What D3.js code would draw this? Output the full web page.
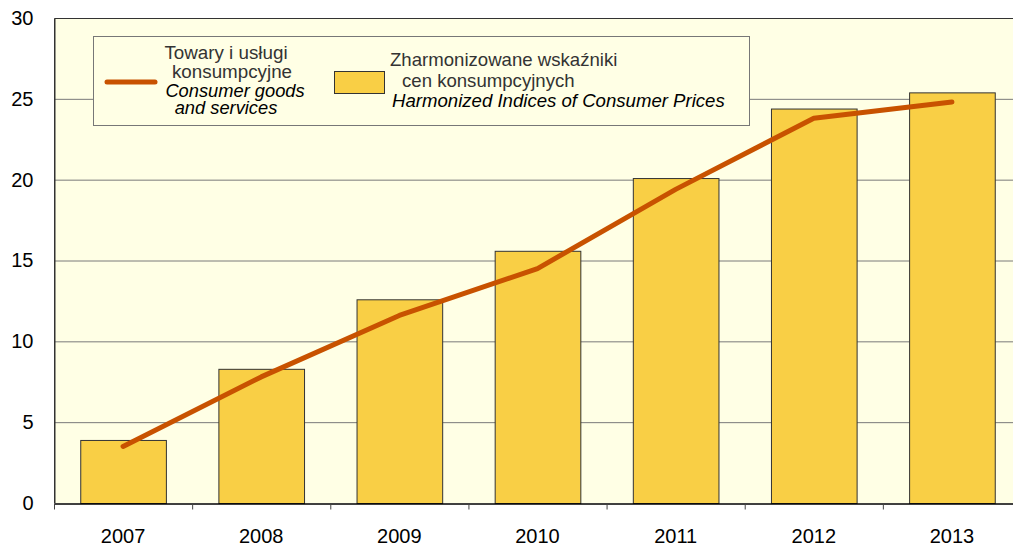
<!DOCTYPE html>
<html>
<head>
<meta charset="utf-8">
<script src="https://cdn.jsdelivr.net/npm/d3@7"></script>
<style>
  body { margin: 0; background: #fff; }
  svg { display: block; font-family: "Liberation Sans", Arial, sans-serif; }
</style>
</head>
<body>
<div id="chart"></div>
<script>
// Data
var years = ["2007", "2008", "2009", "2010", "2011", "2012", "2013"];
var hicpValues = [3.9, 8.3, 12.6, 15.6, 20.1, 24.4, 25.4];
var goodsValues = [3.5, 7.8, 11.6, 14.5, 19.4, 23.8, 24.8];
var yTicks = [0, 5, 10, 15, 20, 25, 30];

var svgWidth = 1013;
var svgHeight = 547;

var chartMargin = { top: 18, right: -8, bottom: 44, left: 54 };
var chartWidth = svgWidth - chartMargin.left - chartMargin.right;
var chartHeight = svgHeight - chartMargin.top - chartMargin.bottom;

var svg = d3.select("#chart")
  .append("svg")
  .attr("width", svgWidth)
  .attr("height", svgHeight);

var chartGroup = svg.append("g")
  .attr("transform", `translate(${chartMargin.left}, ${chartMargin.top})`);

var xScale = d3.scaleBand()
  .domain(years)
  .range([0, chartWidth])
  .paddingInner(0.38)
  .paddingOuter(0.19);

var yScale = d3.scaleLinear()
  .domain([0, 30])
  .range([chartHeight, 0]);

// plot background
chartGroup.append("rect")
  .attr("width", chartWidth)
  .attr("height", chartHeight)
  .attr("fill", "#ffffe5");

// gridlines
chartGroup.selectAll(".grid")
  .data(yTicks.filter(d => d > 0 && d < 30))
  .enter().append("line")
  .attr("x1", 0)
  .attr("x2", chartWidth)
  .attr("y1", d => yScale(d) + 0.5)
  .attr("y2", d => yScale(d) + 0.5)
  .attr("stroke", "#7a7a7a")
  .attr("stroke-width", 1);

// bars
chartGroup.selectAll(".bar")
  .data(hicpValues)
  .enter().append("rect")
  .attr("x", (d, i) => xScale(years[i]) + 0.5)
  .attr("y", d => yScale(d) + 0.5)
  .attr("width", xScale.bandwidth())
  .attr("height", d => chartHeight - yScale(d))
  .attr("fill", "#f9cf45")
  .attr("stroke", "#333")
  .attr("stroke-width", 1);

// line
var line = d3.line()
  .x((d, i) => xScale(years[i]) + xScale.bandwidth() / 2)
  .y(d => yScale(d));

chartGroup.append("path")
  .datum(goodsValues)
  .attr("d", line)
  .attr("fill", "none")
  .attr("stroke", "#c85200")
  .attr("stroke-width", 5)
  .attr("stroke-linecap", "round")
  .attr("stroke-linejoin", "round");

// plot border (top and left)
chartGroup.append("path")
  .attr("d", `M0.5,${chartHeight} V0.5 H${chartWidth}`)
  .attr("fill", "none")
  .attr("stroke", "#333");

// axes
var bottomAxis = d3.axisBottom(xScale).tickSize(0).tickPadding(25);
var leftAxis = d3.axisLeft(yScale).tickValues(yTicks).tickSize(0).tickPadding(21);

var xAxisGroup = chartGroup.append("g")
  .attr("transform", `translate(0, ${chartHeight + 0.5})`)
  .call(bottomAxis);
xAxisGroup.select(".domain").attr("stroke", "#000").attr("stroke-width", 1.5);
xAxisGroup.selectAll("text").attr("font-size", 20).attr("fill", "#000")
  .attr("font-family", "Liberation Sans, Arial, sans-serif");

// category boundary ticks
xAxisGroup.selectAll(".sep")
  .data(years.concat(["end"]))
  .enter().append("line")
  .attr("x1", (d, i) => 0.5 + i * xScale.step())
  .attr("x2", (d, i) => 0.5 + i * xScale.step())
  .attr("y1", 0)
  .attr("y2", 6)
  .attr("stroke", "#444");

var yAxisGroup = chartGroup.append("g")
  .attr("transform", "translate(0.5, 0)")
  .call(leftAxis);
yAxisGroup.select(".domain").attr("stroke", "#333");
yAxisGroup.selectAll("text").attr("font-size", 20).attr("fill", "#000")
  .attr("font-family", "Liberation Sans, Arial, sans-serif");

// legend
var legend = svg.append("g");
legend.append("rect")
  .attr("x", 93.5).attr("y", 36.5)
  .attr("width", 656).attr("height", 89)
  .attr("fill", "#ffffe5")
  .attr("stroke", "#777");

legend.append("line")
  .attr("x1", 107).attr("x2", 155)
  .attr("y1", 82).attr("y2", 82)
  .attr("stroke", "#c85200")
  .attr("stroke-width", 5)
  .attr("stroke-linecap", "round");

var leftLabels = [
  { t: "Towary i usługi", x: 226, y: 59, it: false },
  { t: "konsumpcyjne", x: 232, y: 78, it: false },
  { t: "Consumer goods", x: 235, y: 97, it: true },
  { t: "and services", x: 226, y: 114, it: true }
];
legend.selectAll(".ll")
  .data(leftLabels)
  .enter().append("text")
  .attr("x", d => d.x).attr("y", d => d.y)
  .attr("text-anchor", "middle")
  .attr("font-size", d => d.it ? 18.3 : 18.8)
  .attr("font-style", d => d.it ? "italic" : "normal")
  .attr("fill", d => d.it ? "#000" : "#333")
  .text(d => d.t);

legend.append("rect")
  .attr("x", 334.5).attr("y", 71.5)
  .attr("width", 50).attr("height", 22)
  .attr("fill", "#f9cf45")
  .attr("stroke", "#333");

var rightLabels = [
  { t: "Zharmonizowane wskaźniki", x: 390, y: 66, it: false },
  { t: "cen konsumpcyjnych", x: 402, y: 87, it: false },
  { t: "Harmonized Indices of Consumer Prices", x: 392, y: 107, it: true }
];
legend.selectAll(".rl")
  .data(rightLabels)
  .enter().append("text")
  .attr("x", d => d.x).attr("y", d => d.y)
  .attr("font-size", 18.6)
  .attr("font-style", d => d.it ? "italic" : "normal")
  .attr("fill", d => d.it ? "#000" : "#333")
  .text(d => d.t);
</script>
</body>
</html>
